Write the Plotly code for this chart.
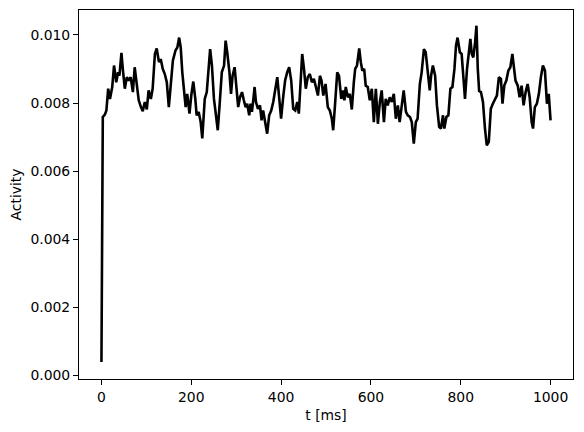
import plotly.graph_objects as go

# time axis in ms
t_ms = [0, 1.5, 3, 7.5, 11, 15, 19, 24, 28, 33, 37, 40, 44.5, 47.5, 52, 56.5,
        61, 65, 70, 74, 79, 83, 88, 92, 96.5, 101, 105, 110, 114, 119, 123,
        128, 132, 136.5, 141, 145.5, 150, 154, 159, 165, 169, 173, 176.5, 180,
        184, 187.5, 191, 196, 200, 204.5, 209, 212, 216.5, 221, 224.5, 230,
        234.5, 237, 242, 246, 250.5, 255, 259, 263, 268, 273, 276.5, 280, 285,
        288.5, 292, 296.5, 301, 304.5, 308.5, 313, 317, 321, 324.5, 329, 332,
        335, 338, 341, 344, 348.5, 353, 356.5, 360, 364.5, 369, 373.5, 378,
        382.5, 387, 391.5, 396, 400, 405, 409, 413.5, 418, 422.5, 427, 431.5,
        436, 439.5, 443.5, 447, 451, 455, 459.5, 464, 468.5, 473, 477.5, 482,
        486.5, 490, 494, 499, 504, 508.5, 513, 516, 520, 525, 529, 534, 538,
        541, 544, 548.5, 553, 557.5, 562, 565, 569, 574, 577.5, 581, 585,
        588.5, 593, 597.5, 602, 606.5, 611, 615.5, 620, 624, 629, 633, 637.5,
        642, 646.5, 651, 655.5, 660, 664, 669, 673, 678, 682, 687, 691, 695.5,
        700, 704, 709, 713, 718, 722, 726.5, 731, 734, 738, 743, 747, 752, 756,
        760.5, 763.5, 768, 772.5, 777, 781.5, 786, 789.5, 793, 798, 802, 806.5,
        809.5, 814, 818.5, 821.5, 824.5, 828, 832, 835, 838, 841, 845, 849.5,
        854, 858, 862.5, 867, 871.5, 876, 880.5, 885, 889.5, 893, 897, 901.5,
        906, 910.5, 915, 918, 922, 927, 931, 935.5, 940, 944.5, 949, 953.5,
        958, 961, 965, 969.5, 974, 978.5, 983, 987.5, 992, 996, 1000]

activity = [0.0004, 0.0055, 0.00759, 0.00766, 0.00778, 0.00842, 0.00812,
            0.00847, 0.0091, 0.00861, 0.0089, 0.0088, 0.00947, 0.009, 0.00842,
            0.00876, 0.00866, 0.00876, 0.00832, 0.00905, 0.00842, 0.00808,
            0.00788, 0.00776, 0.00803, 0.00781, 0.00837, 0.00812, 0.00842,
            0.00944, 0.0096, 0.0092, 0.00929, 0.009, 0.00885, 0.00861, 0.00788,
            0.00861, 0.00924, 0.00955, 0.00963, 0.00992, 0.00963, 0.0089,
            0.00842, 0.00788, 0.00827, 0.00769, 0.00822, 0.00863, 0.00812,
            0.00764, 0.00774, 0.00744, 0.00696, 0.00812, 0.00832, 0.00876,
            0.00958, 0.0091, 0.00812, 0.00764, 0.0072, 0.00793, 0.0089, 0.0091,
            0.00983, 0.00949, 0.0089, 0.00827, 0.0088, 0.00905, 0.00842,
            0.00788, 0.00817, 0.00832, 0.00808, 0.00788, 0.00798, 0.00764,
            0.00798, 0.00774, 0.00808, 0.00847, 0.00803, 0.00783, 0.00793,
            0.00749, 0.00778, 0.00744, 0.0071, 0.00764, 0.00778, 0.00803,
            0.00842, 0.00876, 0.00812, 0.00754, 0.00822, 0.00866, 0.0089,
            0.00905, 0.00866, 0.00783, 0.00778, 0.00803, 0.00769, 0.00861,
            0.00944, 0.009, 0.00842, 0.00876, 0.00885, 0.00861, 0.00871,
            0.00847, 0.00822, 0.0088, 0.00866, 0.00822, 0.00856, 0.00788,
            0.00778, 0.00754, 0.0072, 0.00793, 0.0089, 0.0088, 0.00812, 0.00837,
            0.00808, 0.00847, 0.00817, 0.00827, 0.00781, 0.00861, 0.009, 0.0091,
            0.0096, 0.0092, 0.00895, 0.009, 0.00851, 0.00847, 0.00808, 0.00842,
            0.00744, 0.00842, 0.00739, 0.00803, 0.00837, 0.00744, 0.00812,
            0.00793, 0.00817, 0.00803, 0.00827, 0.00754, 0.00793, 0.00744,
            0.00803, 0.00837, 0.00774, 0.00764, 0.00759, 0.00744, 0.00681,
            0.00744, 0.00754, 0.00856, 0.0089, 0.00958, 0.00949, 0.0089,
            0.00837, 0.0088, 0.0091, 0.0088, 0.00793, 0.0073, 0.00725, 0.00764,
            0.00725, 0.00759, 0.00764, 0.00842, 0.00847, 0.009, 0.00968,
            0.00992, 0.00949, 0.00944, 0.00866, 0.00812, 0.009, 0.00963,
            0.00988, 0.00944, 0.00934, 0.00978, 0.01027, 0.009, 0.00835,
            0.00832, 0.00803, 0.00725, 0.00676, 0.00686, 0.00783, 0.00798,
            0.00808, 0.00822, 0.00876, 0.00871, 0.00798, 0.00851, 0.00866,
            0.00895, 0.00905, 0.00944, 0.0091, 0.00866, 0.00851, 0.00817,
            0.00851, 0.00793, 0.00832, 0.00856, 0.00817, 0.00744, 0.00725,
            0.00788, 0.00798, 0.00827, 0.00876, 0.0091, 0.00895, 0.00798,
            0.00827, 0.00749]

x_ticks = [0, 200, 400, 600, 800, 1000]
y_ticks = [0.000, 0.002, 0.004, 0.006, 0.008, 0.010]

fig = go.Figure(go.Scatter(
    x=t_ms, y=activity, mode="lines",
    line={"color": "black", "width": 2.6},
    showlegend=False))

axis_style = dict(
    showline=True, linecolor="black", linewidth=1.1, mirror=True,
    showgrid=False, zeroline=False, automargin=False,
    ticks="outside", ticklen=5, tickwidth=1.1, tickcolor="black",
    tickfont={"size": 13.9, "color": "black"},
)

fig.update_xaxes(range=[-50, 1050], tickvals=x_ticks,
                 title={"text": "t [ms]", "standoff": 6,
                        "font": {"size": 13.9, "color": "black"}},
                 **axis_style)
fig.update_yaxes(range=[-0.0001, 0.01073], tickvals=y_ticks,
                 tickformat=".3f",
                 title={"text": "Activity", "standoff": 7,
                        "font": {"size": 13.9, "color": "black"}},
                 **axis_style)

# page body has an 8px margin, so the figure is sized/shifted to compensate
fig.update_layout(
    width=576, height=424,
    margin={"l": 71, "r": 11, "t": 2, "b": 53},
    paper_bgcolor="white", plot_bgcolor="white",
    font={"family": "DejaVu Sans", "color": "black"},
)

fig.write_html("out.html")
